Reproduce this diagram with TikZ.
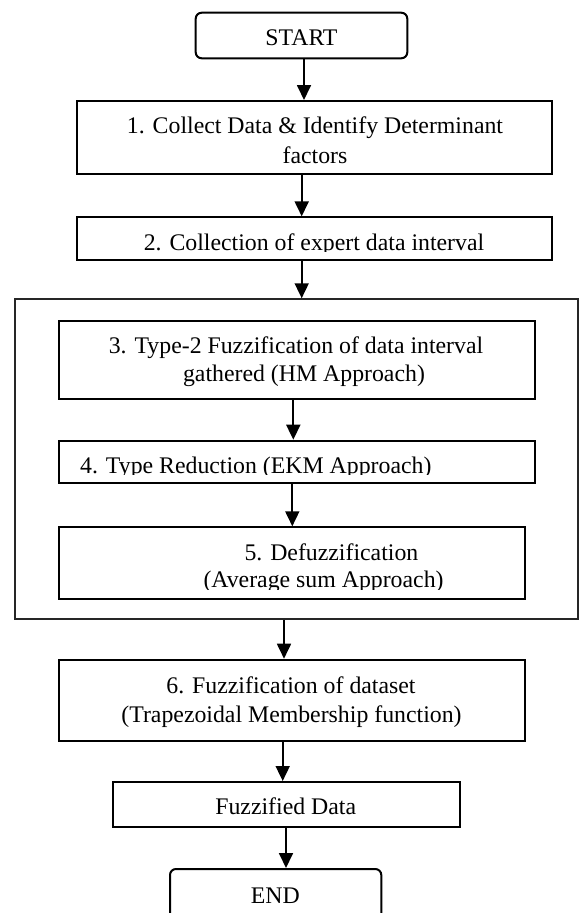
\documentclass[tikz,border=0pt]{standalone}
\usepackage{fontspec}
\setmainfont{Liberation Serif}
\usetikzlibrary{arrows.meta}
\begin{document}
\begin{tikzpicture}[x=1pt,y=-1pt,
  box/.style={draw=black, line width=2pt, rectangle, inner sep=0pt},
  term/.style={box, rounded corners=6pt},
  outerbox/.style={draw=black!85, line width=1.5pt, rectangle, inner sep=0pt},
  txt/.style={inner sep=0pt, font=\fontsize{23.8}{29}\selectfont},
  arr/.style={line width=1.8pt, -{Triangle[length=15pt,width=14pt]}}]
\clip (0,0) rectangle (579,913);
\fill[white] (0,0) rectangle (579,913);
% boxes
\node[term, minimum width=211.6pt, minimum height=45.6pt] (start) at (301.5,35.5) {};
\node[box, minimum width=475pt, minimum height=73pt] (b1) at (314.8,137.5) {};
\node[box, minimum width=475pt, minimum height=42.7pt] (b2) at (314.8,238.7) {};
\node[outerbox, minimum width=563pt, minimum height=320pt] (outer) at (296.5,459) {};
\node[box, minimum width=475.4pt, minimum height=78.3pt] (b3) at (297,359.85) {};
\node[box, minimum width=475.4pt, minimum height=42.6pt] (b4) at (297,462) {};
\node[box, minimum width=465.4pt, minimum height=72pt] (b5) at (292,563.3) {};
\node[box, minimum width=465.4pt, minimum height=81pt] (b6) at (292,700.2) {};
\node[box, minimum width=346.7pt, minimum height=45.3pt] (fd) at (286.65,804.65) {};
\node[term, minimum width=211.3pt, minimum height=56pt] (end) at (275.65,897) {};
% texts
\node[txt, anchor=base] (tstart) at (301.5,45) {START};
\node[txt, anchor=base] (t1a) at (315,133.3) {1. Collect Data \& Identify Determinant};
\node[txt, anchor=base] (t1b) at (315,163.3) {factors};
\begin{scope}
  \clip (80,220) rectangle (550,251);
  \node[txt, anchor=base] (t2) at (314,250) {2. Collection of expert data interval};
\end{scope}
\node[txt, anchor=base] (t3a) at (296,353.3) {3. Type-2 Fuzzification of data interval};
\node[txt, anchor=base] (t3b) at (304,381) {gathered (HM Approach)};
\begin{scope}
  \clip (62,443) rectangle (532,474.5);
  \node[txt, anchor=base west] (t4) at (80,473.3) {4. Type Reduction (EKM Approach)};
\end{scope}
\node[txt, anchor=base west] (t5a) at (244.3,560) {5. Defuzzification};
\begin{scope}
  \clip (62,565) rectangle (522,589);
  \node[txt, anchor=base west] (t5b) at (203.3,587.7) {(Average sum Approach)};
\end{scope}
\node[txt, anchor=base] (t6a) at (291,693) {6. Fuzzification of dataset};
\node[txt, anchor=base] (t6b) at (291.5,722) {(Trapezoidal Membership function)};
\node[txt, anchor=base] (tfd) at (285.7,814) {Fuzzified Data};
\node[txt, anchor=base] (tend) at (275.3,903) {END};
% arrow x positions
\coordinate (xa1) at (304,0);
\coordinate (xa2) at (301.7,0);
\coordinate (xa4) at (293.3,0);
\coordinate (xa5) at (292.3,0);
\coordinate (xa6) at (284,0);
\coordinate (xa7) at (282.7,0);
\coordinate (xa8) at (286,0);
% arrows
\draw[arr] (start.south -| xa1) -- (b1.north -| xa1);
\draw[arr] (b1.south -| xa2) -- (b2.north -| xa2);
\draw[arr] (b2.south -| xa2) -- (outer.north -| xa2);
\draw[arr] (b3.south -| xa4) -- (b4.north -| xa4);
\draw[arr] (b4.south -| xa5) -- (b5.north -| xa5);
\draw[arr] (outer.south -| xa6) -- (b6.north -| xa6);
\draw[arr] (b6.south -| xa7) -- (fd.north -| xa7);
\draw[arr] (fd.south -| xa8) -- (end.north -| xa8);
\end{tikzpicture}
\end{document}
